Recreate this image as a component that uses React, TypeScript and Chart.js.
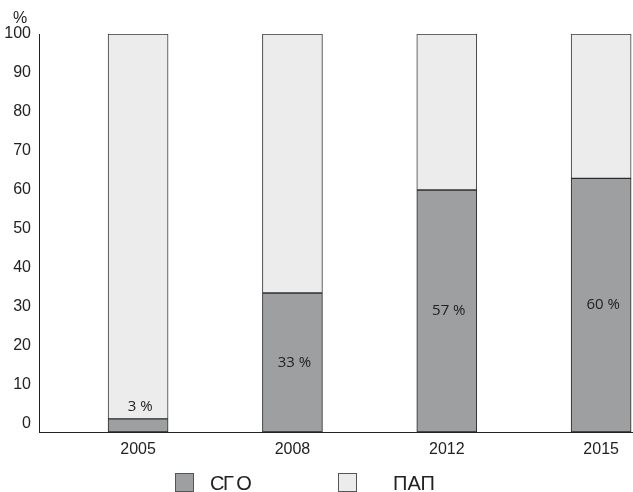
import React, { useEffect, useRef } from "react";
import { Chart, registerables } from "chart.js";

Chart.register(...registerables);

// ---- data ----
const categories = ["2005", "2008", "2012", "2015"];
// heights of the dark (СГО) segments as drawn, in % of the axis
const sgoValues = [1.3, 33.6, 60, 63];
// percentages printed on the bars
const sgoShares = [3, 33, 57, 60];
// top of the light (ПАП) segments
const papTop = [100, 100, 100, 100];
const yTicks = [0, 10, 20, 30, 40, 50, 60, 70, 80, 90, 100];
const seriesNames = ["СГ О", "ПАП"];

const DARK = "#9e9fa0";
const LIGHT = "#ebeceb";
const FONT = "'Liberation Sans', Arial, sans-serif";
const Y_MIN = -2.05;

const labelPlugin = {
  id: "barShareLabels",
  afterDatasetsDraw(chart: any) {
    const meta = chart.getDatasetMeta(0);
    const ctx = chart.ctx;
    ctx.save();
    ctx.font = "15px 'Open Sans', 'Noto Sans', sans-serif";
    ctx.fillStyle = "#222";
    ctx.textAlign = "center";
    ctx.textBaseline = "middle";
    meta.data.forEach((el: any, i: number) => {
      const top = Math.min(el.y, el.base);
      const base = Math.max(el.y, el.base);
      const y = base - top < 25 ? top - 12 : (top + base) / 2;
      ctx.fillText(sgoShares[i] + " %", el.x + 2, y);
    });
    ctx.restore();
  },
};

export default function App() {
  const ref = useRef<HTMLCanvasElement | null>(null);

  useEffect(() => {
    if (!ref.current) return;
    const chart = new Chart(ref.current, {
      type: "bar",
      data: {
        datasets: [
          {
            label: seriesNames[0],
            data: categories.map((_, i) => ({ x: i, y: [Y_MIN, sgoValues[i]] })) as any,
            backgroundColor: DARK,
            borderColor: "#2a2a2a",
            borderWidth: 1,
            borderSkipped: false,
            barThickness: 60,
            grouped: false,
            order: 0,
          },
          {
            label: seriesNames[1],
            data: categories.map((_, i) => ({ x: i, y: [sgoValues[i], papTop[i]] })) as any,
            backgroundColor: LIGHT,
            borderColor: "#3a3a3a",
            borderWidth: 1,
            borderSkipped: false,
            barThickness: 60,
            grouped: false,
            order: 1,
          },
        ],
      },
      options: {
        responsive: false,
        animation: false,
        layout: { padding: { top: 34, right: 1, left: 0, bottom: 0 } },
        plugins: {
          legend: { display: false },
          tooltip: { enabled: false },
        },
        scales: {
          x: {
            type: "linear",
            offset: false,
            min: -0.642,
            max: 3.2,
            afterBuildTicks: (scale: any) => {
              scale.ticks = categories.map((_, i) => ({ value: i }));
            },
            afterFit: (scale: any) => {
              scale.height = 60;
            },
            grid: { display: false, drawTicks: false, offset: false },
            border: { display: true, color: "#222", width: 1 },
            ticks: {
              padding: 8,
              color: "#222",
              font: { size: 16, family: FONT },
              maxRotation: 0,
              autoSkip: false,
              callback: (v: any) => categories[v as number] ?? "",
            },
          },
          y: {
            type: "linear",
            min: Y_MIN,
            max: 100,
            afterBuildTicks: (scale: any) => {
              scale.ticks = yTicks.map((v) => ({ value: v }));
            },
            afterFit: (scale: any) => {
              scale.width = 39;
            },
            grid: { display: false, drawTicks: false },
            border: { display: true, color: "#222", width: 1 },
            ticks: {
              padding: 8,
              color: "#222",
              font: { size: 16, family: FONT },
              callback: (v: any) => String(v),
            },
          },
        },
      },
      plugins: [labelPlugin],
    });
    return () => chart.destroy();
  }, []);

  const sq = (left: number, bg: string): React.CSSProperties => ({
    position: "absolute",
    left,
    top: 473,
    width: 19,
    height: 19,
    background: bg,
    border: "1px solid #555",
    boxSizing: "border-box",
  });
  const txt = (left: number): React.CSSProperties => ({
    position: "absolute",
    left,
    top: 473,
    fontFamily: FONT,
    fontSize: 20,
    lineHeight: "20px",
    color: "#222",
    whiteSpace: "pre",
  });

  return (
    <div
      style={{
        position: "absolute",
        left: 0,
        top: 0,
        width: 633,
        height: 492,
        overflow: "hidden",
        background: "#fff",
      }}
    >
      <canvas ref={ref} width={633} height={492} style={{ position: "absolute", left: 0, top: 0 }} />
      <div
        style={{
          position: "absolute",
          left: 13,
          top: 10,
          fontFamily: FONT,
          fontSize: 16,
          lineHeight: "16px",
          color: "#222",
        }}
      >
        %
      </div>
      <div style={sq(175, DARK)} />
      <div style={{ ...txt(210), letterSpacing: "-1.5px" }}>{seriesNames[0]}</div>
      <div style={sq(338, LIGHT)} />
      <div style={txt(393)}>{seriesNames[1]}</div>
    </div>
  );
}
